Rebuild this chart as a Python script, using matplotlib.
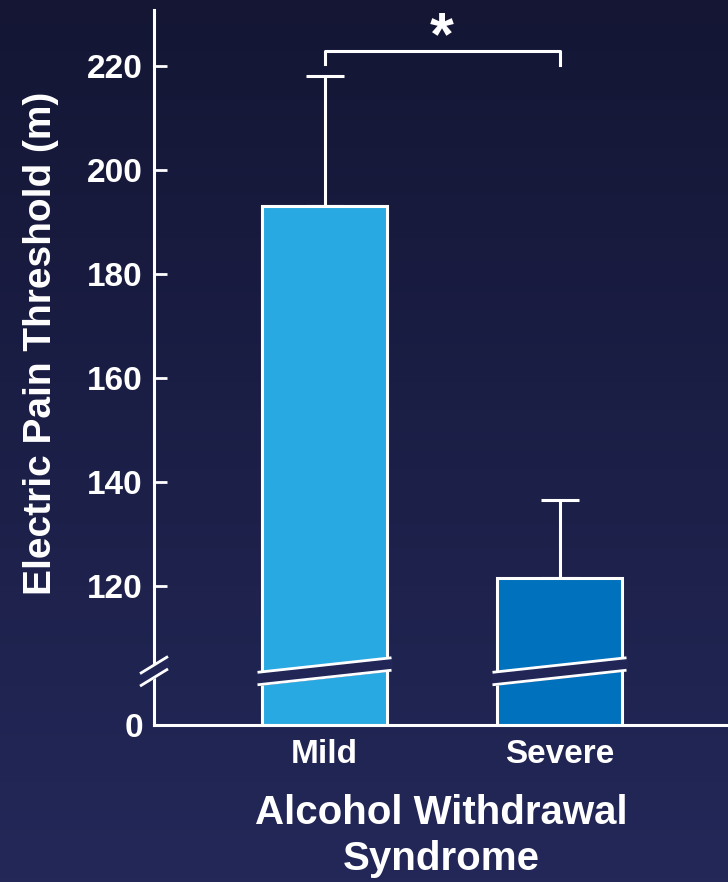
import matplotlib
matplotlib.use("Agg")
import matplotlib.pyplot as plt
import numpy as np
from matplotlib.colors import LinearSegmentedColormap

# ─── Data ─────────────────────────────────────────────────────────────────────
groups = ["Mild", "Severe"]
means = [193.0, 121.5]
sem_upper = [25.0, 15.0]
yticks = [120, 140, 160, 180, 200, 220]

# ─── Style ────────────────────────────────────────────────────────────────────
BAR_COLORS = ["#29a9e1", "#0071bc"]
BG_TOP = "#141634"
BG_BOTTOM = "#232859"
WHITE = "#ffffff"
FONT = "Liberation Sans"

plt.rcParams["font.family"] = FONT
plt.rcParams["font.weight"] = "bold"

W, H = 728, 882
fig = plt.figure(figsize=(W / 100, H / 100), dpi=100)

# vertical gradient background
bg = fig.add_axes([0, 0, 1, 1], zorder=-10)
grad = np.linspace(0, 1, 256).reshape(-1, 1)
cmap = LinearSegmentedColormap.from_list("bg", [BG_TOP, BG_BOTTOM])
bg.imshow(grad, aspect="auto", cmap=cmap, extent=[0, 1, 0, 1], origin="upper")
bg.axis("off")

# axes frame in pixels: left spine at x=154, x-axis at y=725
ax_l, ax_b, ax_r, ax_t = 154, 725, 728, 10
ax = fig.add_axes([ax_l / W, 1 - ax_b / H, (ax_r - ax_l) / W, (ax_b - ax_t) / H])
ax.patch.set_alpha(0)

px_per_unit = 5.2
y_floor = 120 - (ax_b - 586) / px_per_unit      # where "0" sits after the break
y_top = 220 + (66 - ax_t) / px_per_unit
ax.set_ylim(y_floor, y_top)

px_per_cat = 235
x_left = -(324.5 - ax_l) / px_per_cat
ax.set_xlim(x_left, x_left + (ax_r - ax_l) / px_per_cat)

x = np.arange(len(groups))
bar_w = 125 / px_per_cat
heights = [m - y_floor for m in means]
ax.bar(x, heights, bottom=y_floor, width=bar_w, color=BAR_COLORS,
       edgecolor=WHITE, linewidth=2.2, zorder=2)
ax.errorbar(x, means, yerr=[[0, 0], sem_upper], fmt="none", ecolor=WHITE,
            elinewidth=2.2, capsize=14, capthick=2.2, zorder=1)

# spines / ticks
for s in ["top", "right"]:
    ax.spines[s].set_visible(False)
for s in ["left", "bottom"]:
    ax.spines[s].set_color(WHITE)
    ax.spines[s].set_linewidth(2.2)

ax.set_yticks([y_floor] + yticks)
ax.set_yticklabels(["0"] + [str(t) for t in yticks])
ax.tick_params(axis="y", direction="in", length=9, width=2, colors=WHITE,
               pad=8, labelsize=24)
ax.set_xticks(x)
ax.set_xticklabels(groups)
ax.tick_params(axis="x", length=0, colors=WHITE, pad=10, labelsize=24)

# axis break: background-coloured gap plus two slanted strokes
brk_c = 103.6
gap = 2.4
break_fill = "#222657"

def slash_pair(x0, x1, rise):
    xs = np.array([x0, x1])
    lo = brk_c - gap / 2 + np.array([-rise / 2, rise / 2])
    hi = lo + gap
    ax.fill_between(xs, lo, hi, color=break_fill, zorder=3, clip_on=False)
    ax.plot(xs, lo, color=WHITE, lw=2.0, zorder=4, clip_on=False,
            solid_capstyle="butt")
    ax.plot(xs, hi, color=WHITE, lw=2.0, zorder=4, clip_on=False,
            solid_capstyle="butt")

for xi in x:
    slash_pair(xi - 67 / px_per_cat, xi + 67 / px_per_cat, 2.8)
slash_pair(x_left - 14 / px_per_cat, x_left + 14 / px_per_cat, 3.3)

# significance bracket
br_y = 222.9
ax.plot([0, 0, 1, 1], [220.4, br_y, br_y, 220.2], color=WHITE, lw=2.2,
        clip_on=False, zorder=4)
ax.text(0.5, 222.3, "*", color=WHITE, fontsize=44, ha="center",
        va="baseline", fontweight="bold")

ax.set_xlabel("Alcohol Withdrawal\nSyndrome", color=WHITE, fontsize=29,
              fontweight="bold", labelpad=17, linespacing=1.3)
fig.text(41 / W, 1 - 343.5 / H, "Electric Pain Threshold (m)", color=WHITE,
         fontsize=28, fontweight="bold", rotation=90, ha="center", va="center")

fig.savefig("out.png", dpi=100)
